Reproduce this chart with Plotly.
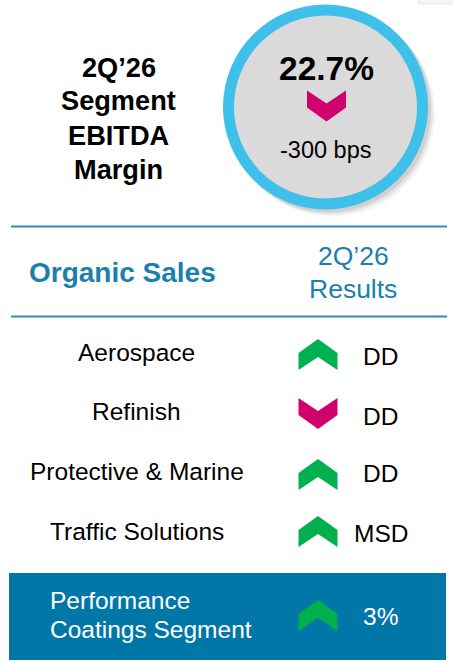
import plotly.graph_objects as go

# ---- data ----
title_lines = ["2Q’26", "Segment", "EBITDA", "Margin"]
margin_value = "22.7%"
margin_change = "-300 bps"
margin_direction = "down"

header_left = "Organic Sales"
header_right = ["2Q’26", "Results"]

segments = ["Aerospace", "Refinish", "Protective & Marine", "Traffic Solutions"]
directions = ["up", "down", "up", "up"]
results = ["DD", "DD", "DD", "MSD"]

total_label = ["Performance", "Coatings Segment"]
total_direction = "up"
total_result = "3%"

# ---- styles / layout ----
W, H = 453, 663
FONT = "Liberation Sans, Arial, sans-serif"
GREEN = "#00B04F"
MAGENTA = "#D1006F"
TEAL = "#1C7FAF"
LINE = "#2E8DBB"
BOX = "#0177A8"
RING = "#3EC0EA"
GRAY = "#DADADA"

label_y = [352.5, 411.7, 471.7, 531.3]
result_y = [356, 416, 473.3, 533.3]
chev_top = [339, 398, 459, 516]
label_x = 136.5
chev_x = 318
res_x = 380.5

shapes = []
annotations = []


def chevron(cx, top, direction, color):
    w, h, side, notch = 19.5, 31, 14, 18
    if direction == "up":
        pts = [(cx - w, top + h), (cx - w, top + side), (cx, top), (cx + w, top + side),
               (cx + w, top + h), (cx, top + notch)]
    else:
        pts = [(cx - w, top), (cx - w, top + h - side), (cx, top + h), (cx + w, top + h - side),
               (cx + w, top), (cx, top + h - notch)]
    path = "M " + " L ".join(f"{x},{y}" for x, y in pts) + " Z"
    shapes.append(dict(type="path", path=path, fillcolor=color, line=dict(width=0), layer="above"))


def text(x, y, s, size, color="#000000", bold=False, xanchor="center"):
    annotations.append(dict(x=x, y=y, xref="x", yref="y", text=(f"<b>{s}</b>" if bold else s),
                            showarrow=False, xanchor=xanchor, yanchor="middle",
                            font=dict(family=FONT, size=size, color=color)))


# top-right faint card corner
shapes.append(dict(type="rect", x0=418, y0=-10, x1=470, y1=4, fillcolor="#F4F4F4",
                   line=dict(color="#E6E6E6", width=1)))

# circle with shadow
cx, cy, R, r = 325.5, 107, 102.5, 91.5
for off, op in [(7, 0.08), (5, 0.14), (3, 0.2)]:
    shapes.append(dict(type="circle", x0=cx - R + off, y0=cy - R + off, x1=cx + R + off, y1=cy + R + off,
                       fillcolor="#808080", opacity=op, line=dict(width=0)))
shapes.append(dict(type="circle", x0=cx - R, y0=cy - R, x1=cx + R, y1=cy + R,
                   fillcolor=RING, line=dict(width=0)))
shapes.append(dict(type="circle", x0=cx - r, y0=cy - r, x1=cx + r, y1=cy + r,
                   fillcolor=GRAY, line=dict(width=0)))

# title
for line_txt, y in zip(title_lines, [67.5, 100.5, 135, 169]):
    text(118.5, y, line_txt, 27.2, bold=True)

text(326.5, 68, margin_value, 33.5, bold=True)
chevron(326.5, 90.5, margin_direction, MAGENTA if margin_direction == "down" else GREEN)
text(325, 149.5, margin_change, 23.5)

# divider lines
for y in [226.5, 316.5]:
    shapes.append(dict(type="line", x0=11, x1=447, y0=y, y1=y, line=dict(color=LINE, width=2)))

text(122, 272.5, header_left, 28, color=TEAL, bold=True)
text(353, 256, header_right[0], 26.5, color=TEAL)
text(353, 289, header_right[1], 26.5, color=TEAL)

# rows
for seg, d, res, ly, ry, ct in zip(segments, directions, results, label_y, result_y, chev_top):
    text(label_x, ly, seg, 24.5)
    chevron(chev_x, ct, d, GREEN if d == "up" else MAGENTA)
    text(res_x, ry, res, 24.5)

# total box
shapes.append(dict(type="rect", x0=9, x1=446, y0=573, y1=660, fillcolor=BOX, line=dict(width=0), layer="below"))
text(48, 600, total_label[0], 24.5, color="#FFFFFF", xanchor="left")
text(48, 629, total_label[1], 24.5, color="#FFFFFF", xanchor="left")
chevron(chev_x, 600, total_direction, GREEN if total_direction == "up" else MAGENTA)
text(res_x, 616.7, total_result, 24.5, color="#FFFFFF")

fig = go.Figure()
fig.update_layout(
    width=W, height=H, margin=dict(l=0, r=0, t=0, b=0),
    paper_bgcolor="white", plot_bgcolor="white",
    xaxis=dict(range=[0, W], visible=False, fixedrange=True),
    yaxis=dict(range=[H, 0], visible=False, fixedrange=True),
    shapes=shapes, annotations=annotations, showlegend=False,
)
fig.write_html("out.html", config={"displayModeBar": False},
               post_script="document.body.style.margin='0';document.body.style.overflow='hidden';")
